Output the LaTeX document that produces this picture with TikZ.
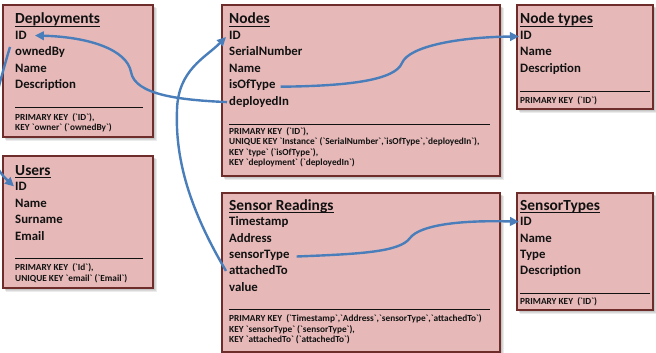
\documentclass[tikz,border=0pt]{standalone}
\usepackage{fontspec}
\setmainfont{Carlito}
\newfontfamily\keyfont{Carlito}[Ligatures=TeXOff]
\usetikzlibrary{arrows.meta}
\definecolor{boxpink}{HTML}{E6B9B8}
\definecolor{boxred}{HTML}{6E2C2B}
\definecolor{linkblue}{HTML}{4A7EBB}
\definecolor{inktext}{HTML}{111111}
\tikzset{
  tbox/.style={draw=boxred, fill=boxpink, line width=1.8pt},
  tshadow/.style={fill=black, opacity=0.08},
  ttl/.style={anchor=base west, inner sep=0pt, text=inktext, font=\fontsize{15.4}{18}\selectfont\bfseries},
  fld/.style={anchor=base west, inner sep=0pt, text=inktext, font=\fontsize{12.8}{15}\selectfont\bfseries},
  kyl/.style={anchor=base west, inner sep=0pt, text=inktext, font=\keyfont\fontsize{9.3}{11}\selectfont\bfseries},
  seprule/.style={draw=inktext, line width=0.9pt},
  ttlline/.style={draw=inktext, line width=0.9pt},
  link/.style={draw=linkblue, line width=2.4pt},
  linkarrow/.style={link, -{Triangle[length=9pt,width=8.5pt]}}
}
% a table box with a soft drop shadow
\newcommand\tablebox[4]{%
  \foreach \s in {1,2,3,4}{\fill[tshadow] (#1+\s*0.6+0.5,#2+\s*0.6+0.5) rectangle (#3+\s*0.9,#4+\s*0.9);}
  \draw[tbox] (#1,#2) rectangle (#3,#4);}
\begin{document}
\begin{tikzpicture}[x=1pt,y=-1pt]
\useasboundingbox[fill=white] (0,0) rectangle (656,353);

% ---------- Deployments ----------
\tablebox{3}{5}{153}{137}
\node[ttl] (dep-t) at (15,24) {Deployments};
\draw[ttlline] ([yshift=-2pt]dep-t.base west) -- ([yshift=-2pt]dep-t.base east);
\node[fld] (dep-id) at (15,39.5) {ID};
\node[fld] (dep-own) at (15,55.9) {ownedBy};
\node[fld] (dep-name) at (15,72.3) {Name};
\node[fld] (dep-desc) at (15,88.7) {Description};
\draw[seprule] (15,107) -- (143,107);
\node[kyl] (dep-k1) at (15,120) {PRIMARY KEY\ \ (`ID`),};
\node[kyl] (dep-k2) at (15,130.5) {KEY `owner` (`ownedBy`)};

% ---------- Users ----------
\tablebox{3}{156}{153}{288}
\node[ttl] (usr-t) at (15,175) {Users};
\draw[ttlline] ([yshift=-2pt]usr-t.base west) -- ([yshift=-2pt]usr-t.base east);
\node[fld] (usr-id) at (15,190.9) {ID};
\node[fld] (usr-name) at (15,207.3) {Name};
\node[fld] (usr-sur) at (15,223.7) {Surname};
\node[fld] (usr-mail) at (15,240.1) {Email};
\draw[seprule] (15,258.5) -- (143,258.5);
\node[kyl] (usr-k1) at (15,270.7) {PRIMARY KEY\ \ (`Id`),};
\node[kyl] (usr-k2) at (15,281) {UNIQUE KEY `email` (`Email`)};

% ---------- Nodes ----------
\tablebox{222}{5}{500}{176}
\node[ttl] (nd-t) at (229,24) {Nodes};
\draw[ttlline] ([yshift=-2pt]nd-t.base west) -- ([yshift=-2pt]nd-t.base east);
\node[fld] (nd-id) at (229,39.5) {ID};
\node[fld] (nd-sn) at (229,55.9) {SerialNumber};
\node[fld] (nd-name) at (229,72.3) {Name};
\node[fld] (nd-type) at (229,88.7) {isOfType};
\node[fld] (nd-dep) at (229,105.1) {deployedIn};
\draw[seprule] (229,124) -- (490,124);
\node[kyl] (nd-k1) at (229,134) {PRIMARY KEY\ \ (`ID`),};
\node[kyl] (nd-k2) at (229,144.5) {UNIQUE KEY `Instance` (`SerialNumber`,`isOfType`,`deployedIn`),};
\node[kyl] (nd-k3) at (229,155) {KEY `type` (`isOfType`),};
\node[kyl] (nd-k4) at (229,165.5) {KEY `deployment` (`deployedIn`)};

% ---------- Node types ----------
\tablebox{517}{5}{653}{109}
\node[ttl] (nt-t) at (520,24) {Node types};
\draw[ttlline] ([yshift=-2pt]nt-t.base west) -- ([yshift=-2pt]nt-t.base east);
\node[fld] (nt-id) at (520,39.5) {ID};
\node[fld] (nt-name) at (520,55.9) {Name};
\node[fld] (nt-desc) at (520,72.3) {Description};
\draw[seprule] (520,91) -- (650,91);
\node[kyl] (nt-k1) at (520,103) {PRIMARY KEY\ \ (`ID`)};

% ---------- Sensor Readings ----------
\tablebox{222}{193}{500}{352}
\node[ttl] (sr-t) at (229,210) {Sensor Readings};
\draw[ttlline] ([yshift=-2pt]sr-t.base west) -- ([yshift=-2pt]sr-t.base east);
\node[fld] (sr-ts) at (229,225.7) {Timestamp};
\node[fld] (sr-addr) at (229,242.1) {Address};
\node[fld] (sr-st) at (229,258.5) {sensorType};
\node[fld] (sr-att) at (229,274.9) {attachedTo};
\node[fld] (sr-val) at (229,291.3) {value};
\draw[seprule] (229,309.5) -- (490,309.5);
\node[kyl] (sr-k1) at (229,321.5) {PRIMARY KEY\ \ (`Timestamp`,`Address`,`sensorType`,`attachedTo`)};
\node[kyl] (sr-k2) at (229,332) {KEY `sensorType` (`sensorType`),};
\node[kyl] (sr-k3) at (229,342.5) {KEY `attachedTo` (`attachedTo`)};

% ---------- SensorTypes ----------
\tablebox{517}{193}{653}{310}
\node[ttl] (stp-t) at (520,210) {SensorTypes};
\draw[ttlline] ([yshift=-2pt]stp-t.base west) -- ([yshift=-2pt]stp-t.base east);
\node[fld] (stp-id) at (520,225.7) {ID};
\node[fld] (stp-name) at (520,242.1) {Name};
\node[fld] (stp-type) at (520,258.5) {Type};
\node[fld] (stp-desc) at (520,274.9) {Description};
\draw[seprule] (520,293) -- (650,293);
\node[kyl] (stp-k1) at (520,304) {PRIMARY KEY\ \ (`ID`)};

% ---------- foreign keys ----------
\begin{scope}
  \clip (0,0) rectangle (656,353);
  % Deployments.ownedBy -> Users.ID (loops out past the left edge)
  \draw[linkarrow] ([xshift=-5pt,yshift=9pt]dep-own.base west)
    .. controls (-10,115) and (-20,155) .. ([xshift=-1pt,yshift=4.5pt]usr-id.base west);
\end{scope}
% Nodes.deployedIn -> Deployments.ID
\draw[linkarrow] ([xshift=-2pt,yshift=3pt]nd-dep.base west)
  .. controls (180,100) and (135,95) .. (131,72)
  .. controls (127,50) and (90,37) .. ([xshift=8pt,yshift=4pt]dep-id.base east);
% SensorReadings.attachedTo -> Nodes.ID
\draw[linkarrow] ([xshift=-3pt,yshift=4pt]sr-att.base west)
  .. controls (190,210) and (175,160) .. (177,110)
  .. controls (178,70) and (205,58) .. ([xshift=-3pt,yshift=2.5pt]nd-id.base west);
% Nodes.isOfType -> Node types.ID
\draw[linkarrow] ([xshift=5pt,yshift=2pt]nd-type.base east)
  .. controls (350,86) and (395,80) .. (402,63)
  .. controls (409,46) and (460,37) .. ([xshift=-1pt,yshift=3pt]nt-id.base west);
% SensorReadings.sensorType -> SensorTypes.ID
\draw[linkarrow] ([xshift=7pt,yshift=2pt]sr-st.base east)
  .. controls (360,254) and (400,252) .. (410,238)
  .. controls (420,225) and (460,220) .. ([xshift=-1pt,yshift=4pt]stp-id.base west);
\end{tikzpicture}
\end{document}
